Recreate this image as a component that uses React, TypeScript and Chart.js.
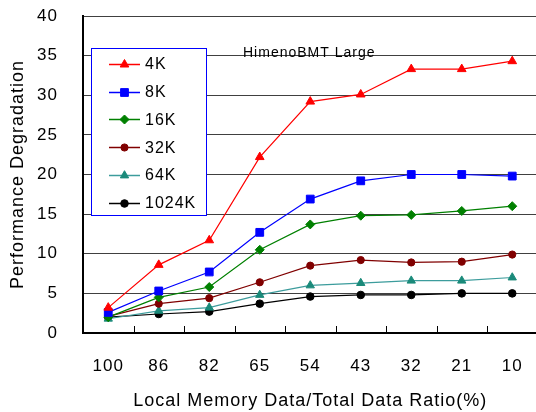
import React, { useEffect, useRef } from 'react';
import { Chart, registerables } from 'chart.js';

Chart.register(...registerables);

const categories = ['100', '86', '82', '65', '54', '43', '32', '21', '10'];
const seriesNames = ['4K', '8K', '16K', '32K', '64K', '1024K'];
const d4K = [3.2, 8.6, 11.7, 22.2, 29.2, 30.1, 33.3, 33.3, 34.3];
const d8K = [2.6, 5.3, 7.7, 12.7, 16.9, 19.2, 20.0, 20.0, 19.8];
const d16K = [2.0, 4.5, 5.8, 10.5, 13.7, 14.8, 14.9, 15.4, 16.0];
const d32K = [2.1, 3.7, 4.4, 6.4, 8.5, 9.2, 8.9, 9.0, 9.9];
const d64K = [1.8, 2.8, 3.2, 4.8, 6.0, 6.3, 6.6, 6.6, 7.0];
const d1024K = [2.0, 2.4, 2.7, 3.7, 4.6, 4.8, 4.8, 5.0, 5.0];
const yTicks = [0, 5, 10, 15, 20, 25, 30, 35, 40];

const chartTitle = 'HimenoBMT Large';
const xTitle = 'Local Memory Data/Total Data Ratio(%)';
const yTitle = 'Performance Degradation';

const FONT = "'Liberation Sans', Arial, sans-serif";

const styles = [
  { line: '#FF0000', fill: '#FF0000', shape: 'triangle', r: 5 },
  { line: '#0000FF', fill: '#0000FF', shape: 'rect', r: 5.5 },
  { line: '#008000', fill: '#008000', shape: 'rectRot', r: 4.5 },
  { line: '#800000', fill: '#800000', shape: 'circle', r: 3.6 },
  { line: '#3C9C9C', fill: '#1A8A7A', shape: 'triangle', r: 4.8 },
  { line: '#000000', fill: '#000000', shape: 'circle', r: 3.8 },
];

function drawMarker(ctx: CanvasRenderingContext2D, shape: string, x: number, y: number, r: number, color: string) {
  ctx.save();
  ctx.fillStyle = color;
  ctx.strokeStyle = color;
  ctx.lineWidth = 1;
  ctx.beginPath();
  if (shape === 'triangle') {
    ctx.moveTo(x, y - r);
    ctx.lineTo(x + r * Math.sin(2 * Math.PI / 3), y - r * Math.cos(2 * Math.PI / 3));
    ctx.lineTo(x + r * Math.sin(4 * Math.PI / 3), y - r * Math.cos(4 * Math.PI / 3));
    ctx.closePath();
  } else if (shape === 'rect') {
    const s = Math.SQRT1_2 * r;
    ctx.rect(x - s, y - s, 2 * s, 2 * s);
  } else if (shape === 'rectRot') {
    ctx.moveTo(x - r, y);
    ctx.lineTo(x, y - r);
    ctx.lineTo(x + r, y);
    ctx.lineTo(x, y + r);
    ctx.closePath();
  } else {
    ctx.arc(x, y, r, 0, Math.PI * 2);
  }
  ctx.fill();
  ctx.stroke();
  ctx.restore();
}

const overlayPlugin = {
  id: 'overlay',
  beforeUpdate(chart: any) {
    (chart.ctx as any).letterSpacing = '1px';
  },
  beforeDraw(chart: any) {
    (chart.ctx as any).letterSpacing = '1px';
  },
  beforeDatasetsDraw(chart: any) {
    const ctx = chart.ctx as CanvasRenderingContext2D;
    const xs = chart.scales.x;
    const bottom = chart.chartArea.bottom;
    const step = xs.getPixelForValue(1) - xs.getPixelForValue(0);
    ctx.save();
    ctx.strokeStyle = '#000';
    ctx.lineWidth = 1;
    for (let i = 0; i <= categories.length; i++) {
      const x = Math.round(xs.getPixelForValue(0) - step / 2 + i * step) + 0.5;
      ctx.beginPath();
      ctx.moveTo(x, bottom);
      ctx.lineTo(x, bottom - 7);
      ctx.stroke();
    }
    (ctx as any).letterSpacing = '1px';
    ctx.fillStyle = '#000';
    ctx.font = `14px ${FONT}`;
    ctx.textAlign = 'left';
    ctx.textBaseline = 'middle';
    ctx.fillText(chartTitle, 243, 53);
    ctx.restore();
  },
  afterDraw(chart: any) {
    const ctx = chart.ctx as CanvasRenderingContext2D;
    ctx.save();
    ctx.fillStyle = '#FFFFFF';
    ctx.fillRect(91, 48, 116, 168);
    ctx.strokeStyle = '#0000FF';
    ctx.lineWidth = 1;
    ctx.strokeRect(91.5, 48.5, 115, 167);
    (ctx as any).letterSpacing = '1px';
    ctx.font = `16px ${FONT}`;
    ctx.textAlign = 'left';
    ctx.textBaseline = 'middle';
    chart.data.datasets.forEach((ds: any, i: number) => {
      const st = styles[i];
      const y = 64 + i * 27.7;
      ctx.strokeStyle = st.line;
      ctx.lineWidth = 1.5;
      ctx.beginPath();
      ctx.moveTo(109, Math.round(y) + 0.5);
      ctx.lineTo(140, Math.round(y) + 0.5);
      ctx.stroke();
      drawMarker(ctx, st.shape, 124.5, Math.round(y) + 0.5, st.r, st.fill);
      ctx.fillStyle = '#000';
      ctx.fillText(ds.label, 145, y + 1);
    });
    ctx.restore();
  },
};

export default function App() {
  const ref = useRef<HTMLCanvasElement | null>(null);
  useEffect(() => {
    if (!ref.current) return;
    const all = [d4K, d8K, d16K, d32K, d64K, d1024K];
    const chart = new Chart(ref.current, {
      type: 'line',
      data: {
        labels: categories,
        datasets: all.map((d, i) => ({
          label: seriesNames[i],
          data: d,
          borderColor: styles[i].line,
          backgroundColor: styles[i].fill,
          pointBackgroundColor: styles[i].fill,
          pointBorderColor: styles[i].fill,
          pointBorderWidth: 1,
          pointStyle: styles[i].shape as any,
          pointRadius: styles[i].r,
          borderWidth: 1.2,
          tension: 0,
          fill: false,
        })),
      },
      options: {
        responsive: false,
        animation: false,
        devicePixelRatio: 1,
        layout: { padding: { top: 16, left: 0, right: 0, bottom: 0 } },
        plugins: {
          legend: { display: false },
          tooltip: { enabled: false },
          title: { display: false },
        },
        scales: {
          x: {
            type: 'category',
            offset: true,
            grid: { display: true, drawOnChartArea: false, drawTicks: false, color: 'rgba(0,0,0,0)' },
            border: { display: true, color: '#000', width: 2 },
            ticks: { color: '#000', padding: 23, font: { family: FONT, size: 17 } },
            title: {
              display: true,
              text: xTitle,
              color: '#000',
              font: { family: FONT, size: 18 },
              padding: { top: 0, bottom: 0 },
            },
            afterFit: (s: any) => {
              s.height = 79;
              s.paddingLeft = 0;
              s.paddingRight = 0;
            },
          },
          y: {
            min: 0,
            max: 40,
            afterBuildTicks: (s: any) => { s.ticks = yTicks.map((v) => ({ value: v })); },
            grid: { color: '#404040', lineWidth: 1, drawTicks: false },
            border: { display: true, color: '#000', width: 2 },
            ticks: { color: '#000', padding: 25, font: { family: FONT, size: 17 } },
            title: {
              display: true,
              text: yTitle,
              color: '#000',
              font: { family: FONT, size: 18 },
              padding: { top: 7, bottom: 7 },
            },
            afterFit: (s: any) => {
              s.width = 83;
              s.paddingTop = 0;
              s.paddingBottom = 0;
            },
          },
        },
      },
      plugins: [overlayPlugin],
    });
    return () => chart.destroy();
  }, []);
  return (
    <div style={{ position: 'absolute', left: 0, top: 0, width: 536, height: 412, overflow: 'hidden', background: '#fff' }}>
      <canvas ref={ref} width={544} height={412} style={{ width: 544, height: 412, display: 'block' }} />
    </div>
  );
}
